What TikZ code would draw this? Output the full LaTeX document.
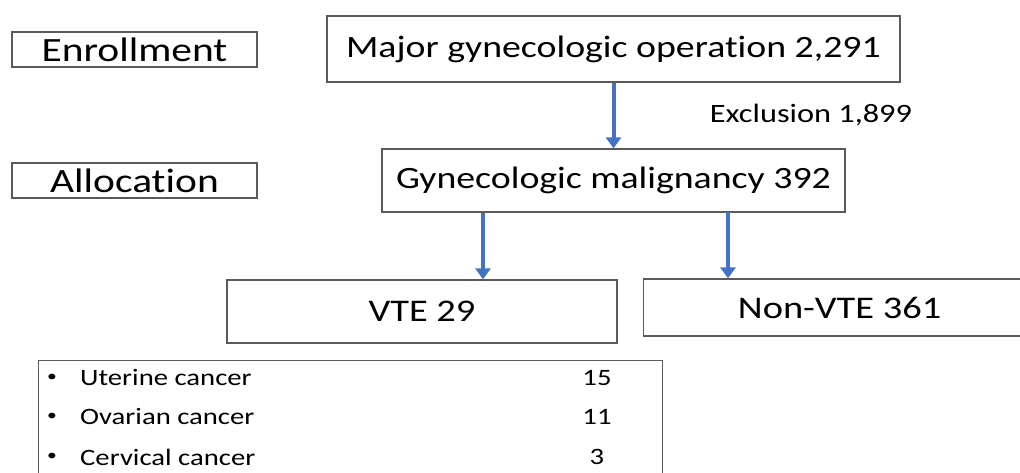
\documentclass[tikz,border=0pt]{standalone}
\usepackage{fontspec}
\setmainfont{Carlito}[FakeStretch=1.22, RawFeature={-liga;-clig;-calt;-dlig}]
\usetikzlibrary{arrows.meta}
\definecolor{arrowblue}{RGB}{68,114,196}
\definecolor{boxgray}{RGB}{90,90,90}
\tikzset{
  flowbox/.style={draw=boxgray, line width=1.3pt, fill=white, inner sep=0pt},
  flowarrow/.style={draw=arrowblue, line width=4pt, -{Triangle[width=15pt,length=11pt]}},
  flabel/.style={font=\fontsize{34}{40}\selectfont},
  fbig/.style={font=\fontsize{31}{37}\selectfont},
  fmid/.style={font=\fontsize{31.5}{38}\selectfont},
  fexcl/.style={font=\fontsize{26.5}{32}\selectfont},
  fsmall/.style={font=\fontsize{23.5}{28}\selectfont},
  fbullet/.style={font=\fontsize{16}{20}\selectfont},
}
\begin{document}
\begin{tikzpicture}[x=1pt,y=-1pt]
\clip (0,0) rectangle (1020,473);
\fill[white] (0,0) rectangle (1020,473);
% boxes
\node[flowbox, flabel, minimum width=245pt, minimum height=35pt] (enroll) at (134.5,49.5) {Enrollment};
\node[flowbox, flabel, minimum width=245pt, minimum height=35pt] (alloc) at (134.5,180.5) {Allocation};
\node[flowbox, fbig, minimum width=573pt, minimum height=66pt] (major) at (613.5,49) {Major gynecologic operation 2,291};
\node[flowbox, fbig, minimum width=463pt, minimum height=63pt] (gyn) at (613.5,180.5) {Gynecologic malignancy 392};
\node[flowbox, fmid, minimum width=390pt, minimum height=63pt] (vte) at (422,311.5) {VTE 29};
\node[flowbox, fmid, minimum width=380pt, minimum height=57pt, anchor=west] (nonvte) at (643,307.5) {\hspace*{12pt}Non-VTE 361};
\node[fexcl, anchor=center] (excl) at (811,115) {Exclusion 1,899};
% list box
\node[flowbox, minimum width=624pt, minimum height=140pt, anchor=north west] (list) at (38,360) {};
\node[fbullet, anchor=center] (b1) at (52,378) {•};
\node[fbullet, anchor=center] (b2) at (52,417) {•};
\node[fbullet, anchor=center] (b3) at (52,457) {•};
\node[fsmall, anchor=west, inner sep=0pt] (t1) at (80,378) {Uterine cancer};
\node[fsmall, anchor=west, inner sep=0pt] (t2) at (80,417) {Ovarian cancer};
\node[fsmall, anchor=west, inner sep=0pt] (t3) at (80,457) {Cervical cancer};
\node[fsmall, anchor=center] (n1) at (597,378) {15};
\node[fsmall, anchor=center] (n2) at (597,417) {11};
\node[fsmall, anchor=center] (n3) at (597,457) {3};
% arrows
\draw[flowarrow] (major.south) -- (gyn.north -| major.south);
\draw[flowarrow] (gyn.south -| vte.north) ++(61,0) coordinate (a2) -- (a2 |- vte.north);
\coordinate (a3) at (728,212);
\draw[flowarrow] (a3) -- (a3 |- nonvte.north);
\end{tikzpicture}
\end{document}
